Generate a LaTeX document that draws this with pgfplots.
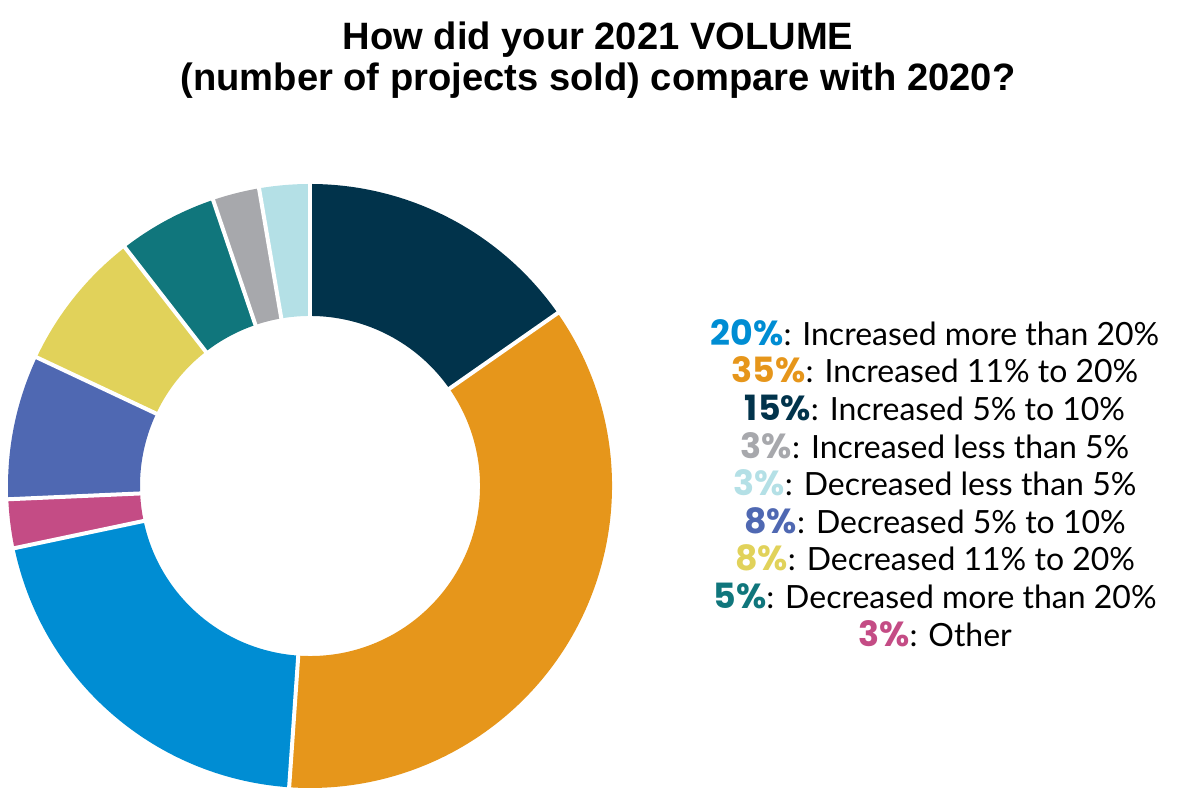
\documentclass[border=0pt]{standalone}
\usepackage{fontspec}
\setmainfont{Liberation Sans}
\newfontfamily\legfont{Lato}
\newfontfamily\pctfont{Poppins}
\usepackage{pgfplots}
\usepackage{pgfplotstable}
\pgfplotsset{compat=1.18}

\definecolor{cNavy}{HTML}{01334B}
\definecolor{cOrange}{HTML}{E6961B}
\definecolor{cBlue}{HTML}{008DD3}
\definecolor{cMagenta}{HTML}{C44C85}
\definecolor{cPurple}{HTML}{4F68B2}
\definecolor{cYellow}{HTML}{E1D25A}
\definecolor{cTeal}{HTML}{10767C}
\definecolor{cGray}{HTML}{A7A8AC}
\definecolor{cLight}{HTML}{B4E0E6}

% slices, clockwise from 12 o'clock (share in percent)
\pgfplotstableread{
val  color
15.3 cNavy
35.8 cOrange
20.6 cBlue
2.6  cMagenta
7.7  cPurple
7.5  cYellow
5.3  cTeal
2.5  cGray
2.7  cLight
}\slices

\def\ri{0.563}

\newcommand{\pct}[2]{{\pctfont\fontsize{19.8}{21.4}\selectfont\bfseries\color{#1}#2\%}}

\begin{document}
\begin{tikzpicture}
\path[use as bounding box] (0,0) rectangle (24,15.86);

\node[align=center, font=\fontsize{21.7}{23.6}\selectfont\bfseries] at (11.96,14.66)
  {How did your 2021 VOLUME\\(number of projects sold) compare with 2020?};

\begin{axis}[
    at={(6.2cm,6.14cm)}, anchor=center,
    x=6.04cm, y=6.04cm,
    xmin=-1, xmax=1, ymin=-1, ymax=1,
    hide axis, clip=false
]
\pgfplotsextra{
  \gdef\acc{90}
  \foreach \i in {0,...,8}{
    \pgfplotstablegetelem{\i}{val}\of\slices \let\v\pgfplotsretval
    \pgfplotstablegetelem{\i}{color}\of\slices \let\c\pgfplotsretval
    \pgfmathsetmacro\b{\acc-3.6*\v}
    \fill[\c] (axis cs:{\ri*cos(\acc)},{\ri*sin(\acc)})
      -- (axis cs:{cos(\acc)},{sin(\acc)})
      arc[start angle=\acc, end angle=\b, radius=6.04cm]
      -- (axis cs:{\ri*cos(\b)},{\ri*sin(\b)})
      arc[start angle=\b, end angle=\acc, radius=\ri*6.04cm] -- cycle;
    \xdef\acc{\b}
  }
  \gdef\acc{90}
  \foreach \i in {0,...,8}{
    \pgfplotstablegetelem{\i}{val}\of\slices \let\v\pgfplotsretval
    \draw[white, line width=0.08cm] (axis cs:{0.5*cos(\acc)},{0.5*sin(\acc)})
      -- (axis cs:{1.02*cos(\acc)},{1.02*sin(\acc)});
    \pgfmathsetmacro\b{\acc-3.6*\v}
    \xdef\acc{\b}
  }
}
\end{axis}

\node[align=center, font=\legfont\fontsize{18.2}{21.4}\selectfont] at (18.7,6.2) {%
  \pct{cBlue}{20}: Increased more than 20\%\\
  \pct{cOrange}{35}: Increased 11\% to 20\%\\
  \pct{cNavy}{15}: Increased 5\% to 10\%\\
  \pct{cGray}{3}: Increased less than 5\%\\
  \pct{cLight}{3}: Decreased less than 5\%\\
  \pct{cPurple}{8}: Decreased 5\% to 10\%\\
  \pct{cYellow}{8}: Decreased 11\% to 20\%\\
  \pct{cTeal}{5}: Decreased more than 20\%\\
  \pct{cMagenta}{3}: Other};
\end{tikzpicture}
\end{document}
